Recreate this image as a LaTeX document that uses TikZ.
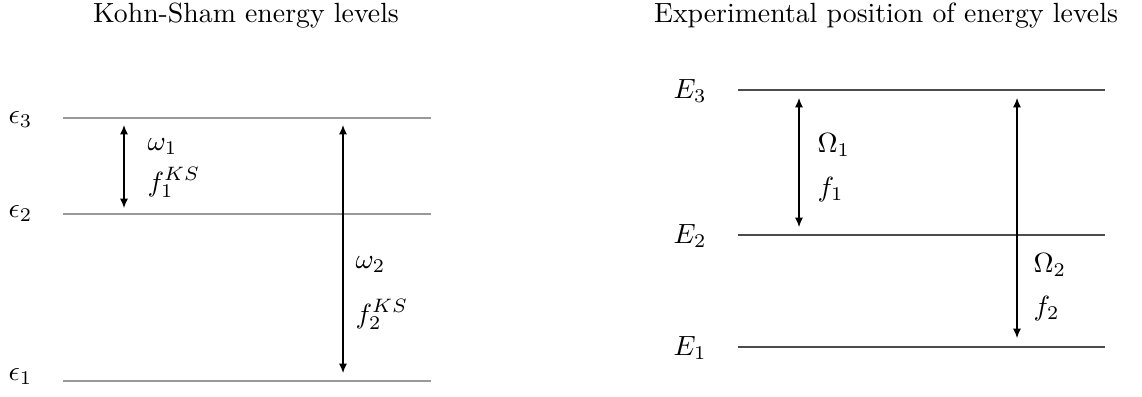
\documentclass[tikz,border=0pt]{standalone}
\usetikzlibrary{arrows.meta}
\begin{document}
\begin{tikzpicture}[x=0.36pt,y=-0.36pt,
  lvlL/.style={draw=black!40,line width=0.4pt},
  lvlR/.style={draw=black!70,line width=0.4pt},
  trans/.style={{Latex[length=3.4pt,width=2.9pt]}-{Latex[length=3.4pt,width=2.9pt]},line width=0.4pt},
  lab/.style={inner sep=0pt,anchor=base west},
  ttl/.style={inner sep=0pt,anchor=base}]
\useasboundingbox (0,0) rectangle (1142,396);
% titles
\node[ttl] (tL) at (246,22) {Kohn-Sham energy levels};
\node[ttl] (tR) at (886,22) {Experimental position of energy levels};
% left levels
\node[lab] (e3) at (8,123) {$\epsilon_3$};
\node[lab] (e2) at (8,217) {$\epsilon_2$};
\node[lab] (e1) at (8,380) {$\epsilon_1$};
\coordinate (l3a) at (63,118); \coordinate (l3b) at (431,118);
\coordinate (l2a) at (63,214); \coordinate (l2b) at (431,214);
\coordinate (l1a) at (63,381); \coordinate (l1b) at (431,381);
\draw[lvlL] (l3a) -- (l3b);
\draw[lvlL] (l2a) -- (l2b);
\draw[lvlL] (l1a) -- (l1b);
\coordinate (a1t) at (124,125); \coordinate (a1b) at (124,208);
\draw[trans] (a1t) -- (a1b);
\node[lab] (w1) at (147,150) {$\omega_1$};
\node[lab] (fks1) at (147,191) {$f_1^{KS}$};
\coordinate (a2t) at (343,125); \coordinate (a2b) at (343,373);
\draw[trans] (a2t) -- (a2b);
\node[lab] (w2) at (355,268) {$\omega_2$};
\node[lab] (fks2) at (355,323) {$f_2^{KS}$};
% right levels
\node[lab] (E3) at (673,98) {$E_3$};
\node[lab] (E2) at (673,243) {$E_2$};
\node[lab] (E1) at (673,355) {$E_1$};
\coordinate (r3a) at (738,90); \coordinate (r3b) at (1105,90);
\coordinate (r2a) at (738,235); \coordinate (r2b) at (1105,235);
\coordinate (r1a) at (738,347); \coordinate (r1b) at (1105,347);
\draw[lvlR] (r3a) -- (r3b);
\draw[lvlR] (r2a) -- (r2b);
\draw[lvlR] (r1a) -- (r1b);
\coordinate (b1t) at (799,98); \coordinate (b1b) at (799,227);
\draw[trans] (b1t) -- (b1b);
\node[lab] (O1) at (817,152) {$\Omega_1$};
\node[lab] (f1) at (817,196) {$f_1$};
\coordinate (b2t) at (1017,98); \coordinate (b2b) at (1017,338);
\draw[trans] (b2t) -- (b2b);
\node[lab] (O2) at (1033,272) {$\Omega_2$};
\node[lab] (f2) at (1033,315) {$f_2$};
\end{tikzpicture}
\end{document}
